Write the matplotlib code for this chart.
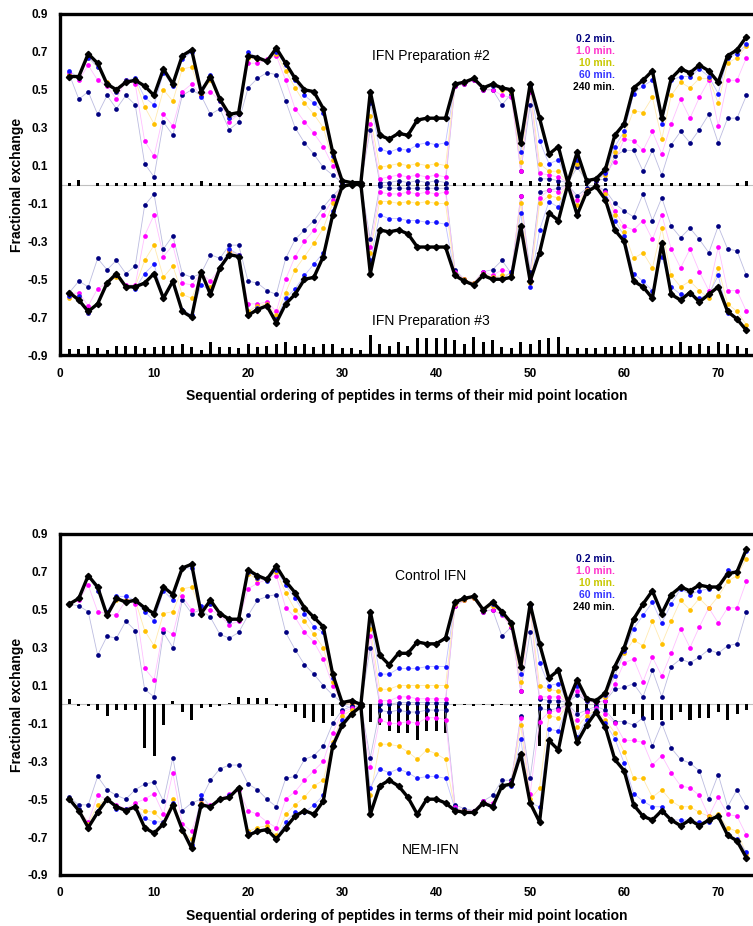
import numpy as np
import matplotlib
matplotlib.use('Agg')
import matplotlib.pyplot as plt

plt.rcParams['font.family'] = ['Liberation Sans', 'DejaVu Sans']
plt.rcParams['axes.unicode_minus'] = False

peptide = np.arange(1, 74)
times = ['0.2 min.', '1.0 min.', '10 min.', '60 min.', '240 min.']

# ---- panel A : IFN preparation #2 (upper) / #3 (lower) ----
prep2_02 = [0.58, 0.45, 0.49, 0.37, 0.47, 0.40, 0.47, 0.42, 0.11, 0.04,
            0.33, 0.26, 0.47, 0.50, 0.47, 0.37, 0.40, 0.29, 0.33, 0.51,
            0.56, 0.59, 0.58, 0.44, 0.30, 0.22, 0.16, 0.09, 0.05, 0.01,
            0.01, 0.01, 0.29, 0.01, 0.01, 0.02, 0.01, 0.02, 0.01, 0.02,
            0.01, 0.52, 0.53, 0.55, 0.50, 0.50, 0.42, 0.48, 0.07, 0.42,
            0.03, 0.03, 0.02, 0.01, 0.09, 0.02, 0.02, 0.03, 0.15, 0.18,
            0.18, 0.07, 0.18, 0.05, 0.21, 0.28, 0.22, 0.29, 0.37, 0.22,
            0.35, 0.35, 0.47]
prep2_1 = [0.59, 0.55, 0.63, 0.55, 0.52, 0.45, 0.55, 0.53, 0.23, 0.15,
           0.37, 0.31, 0.49, 0.53, 0.47, 0.49, 0.44, 0.33, 0.37, 0.64,
           0.64, 0.66, 0.68, 0.55, 0.40, 0.33, 0.27, 0.20, 0.10, 0.01,
           0.01, 0.01, 0.32, 0.03, 0.04, 0.05, 0.04, 0.05, 0.04, 0.05,
           0.04, 0.52, 0.53, 0.55, 0.50, 0.50, 0.47, 0.46, 0.07, 0.49,
           0.06, 0.05, 0.04, 0.01, 0.14, 0.02, 0.02, 0.06, 0.12, 0.24,
           0.23, 0.18, 0.28, 0.16, 0.32, 0.45, 0.35, 0.46, 0.55, 0.31,
           0.55, 0.55, 0.67]
prep2_10 = [0.58, 0.56, 0.67, 0.62, 0.54, 0.49, 0.55, 0.55, 0.41, 0.32,
            0.50, 0.44, 0.61, 0.62, 0.48, 0.55, 0.44, 0.35, 0.37, 0.67,
            0.66, 0.65, 0.69, 0.60, 0.51, 0.43, 0.37, 0.30, 0.13, 0.01,
            0.01, 0.01, 0.36, 0.09, 0.10, 0.11, 0.10, 0.11, 0.10, 0.11,
            0.10, 0.53, 0.54, 0.56, 0.51, 0.52, 0.50, 0.49, 0.12, 0.51,
            0.11, 0.07, 0.07, 0.01, 0.11, 0.02, 0.02, 0.05, 0.17, 0.26,
            0.39, 0.38, 0.46, 0.24, 0.47, 0.54, 0.51, 0.56, 0.56, 0.43,
            0.64, 0.67, 0.73]
prep2_60 = [0.60, 0.56, 0.67, 0.62, 0.53, 0.49, 0.55, 0.56, 0.46, 0.42,
            0.59, 0.52, 0.66, 0.70, 0.46, 0.58, 0.44, 0.35, 0.37, 0.70,
            0.67, 0.65, 0.70, 0.63, 0.55, 0.47, 0.43, 0.38, 0.15, 0.01,
            0.01, 0.01, 0.43, 0.19, 0.17, 0.19, 0.18, 0.21, 0.22, 0.21,
            0.22, 0.53, 0.54, 0.56, 0.51, 0.52, 0.51, 0.50, 0.17, 0.52,
            0.23, 0.11, 0.13, 0.01, 0.13, 0.02, 0.02, 0.06, 0.20, 0.28,
            0.48, 0.52, 0.55, 0.32, 0.55, 0.57, 0.57, 0.61, 0.57, 0.48,
            0.67, 0.69, 0.74]
prep2_240 = [0.57, 0.57, 0.69, 0.64, 0.53, 0.50, 0.54, 0.55, 0.52, 0.47,
             0.61, 0.53, 0.68, 0.71, 0.49, 0.57, 0.45, 0.37, 0.38, 0.68,
             0.67, 0.65, 0.72, 0.64, 0.56, 0.50, 0.49, 0.40, 0.17, 0.02,
             0.01, 0.01, 0.49, 0.26, 0.24, 0.27, 0.26, 0.34, 0.35, 0.35,
             0.35, 0.53, 0.54, 0.56, 0.51, 0.53, 0.51, 0.50, 0.22, 0.53,
             0.35, 0.16, 0.20, 0.01, 0.17, 0.02, 0.03, 0.08, 0.26, 0.32,
             0.51, 0.55, 0.60, 0.35, 0.56, 0.61, 0.59, 0.63, 0.60, 0.54,
             0.68, 0.71, 0.78]

prep3_02 = [-0.57, -0.51, -0.54, -0.39, -0.45, -0.40, -0.47, -0.43, -0.11, -0.05,
            -0.34, -0.27, -0.47, -0.49, -0.47, -0.37, -0.39, -0.32, -0.32, -0.51,
            -0.52, -0.56, -0.58, -0.39, -0.29, -0.24, -0.19, -0.12, -0.06, -0.01,
            0.00, 0.00, -0.29, -0.01, -0.02, -0.02, -0.02, -0.02, -0.02, -0.02,
            -0.02, -0.45, -0.50, -0.52, -0.46, -0.45, -0.40, -0.47, -0.06, -0.46,
            -0.04, -0.03, -0.02, 0.00, -0.06, -0.02, -0.01, -0.03, -0.10, -0.14,
            -0.17, -0.05, -0.19, -0.07, -0.22, -0.28, -0.23, -0.29, -0.36, -0.22,
            -0.34, -0.35, -0.48]
prep3_1 = [-0.58, -0.57, -0.64, -0.55, -0.52, -0.47, -0.53, -0.53, -0.27, -0.16,
           -0.38, -0.32, -0.52, -0.53, -0.47, -0.51, -0.44, -0.35, -0.37, -0.63,
           -0.63, -0.62, -0.67, -0.50, -0.38, -0.30, -0.24, -0.16, -0.08, -0.01,
           0.00, 0.00, -0.33, -0.04, -0.05, -0.05, -0.04, -0.05, -0.04, -0.05,
           -0.04, -0.46, -0.50, -0.52, -0.46, -0.48, -0.45, -0.46, -0.06, -0.50,
           -0.07, -0.03, -0.04, 0.00, -0.08, -0.03, -0.01, -0.04, -0.14, -0.22,
           -0.24, -0.19, -0.29, -0.16, -0.34, -0.44, -0.34, -0.46, -0.56, -0.33,
           -0.56, -0.56, -0.67]
prep3_10 = [-0.60, -0.59, -0.68, -0.63, -0.52, -0.49, -0.54, -0.54, -0.40, -0.32,
            -0.49, -0.43, -0.58, -0.60, -0.48, -0.54, -0.44, -0.35, -0.37, -0.67,
            -0.64, -0.63, -0.69, -0.57, -0.45, -0.38, -0.31, -0.23, -0.10, -0.01,
            0.00, 0.00, -0.36, -0.09, -0.09, -0.10, -0.09, -0.10, -0.09, -0.10,
            -0.10, -0.47, -0.50, -0.52, -0.47, -0.49, -0.48, -0.47, -0.10, -0.52,
            -0.10, -0.06, -0.07, 0.00, -0.11, -0.03, -0.01, -0.05, -0.16, -0.25,
            -0.39, -0.36, -0.44, -0.23, -0.48, -0.54, -0.51, -0.56, -0.60, -0.44,
            -0.63, -0.67, -0.74]
prep3_60 = [-0.59, -0.59, -0.68, -0.63, -0.52, -0.48, -0.54, -0.55, -0.47, -0.42,
            -0.60, -0.51, -0.66, -0.69, -0.53, -0.56, -0.44, -0.34, -0.37, -0.69,
            -0.65, -0.64, -0.71, -0.60, -0.55, -0.48, -0.42, -0.36, -0.14, -0.01,
            0.00, 0.00, -0.40, -0.16, -0.18, -0.18, -0.19, -0.19, -0.20, -0.20,
            -0.21, -0.48, -0.51, -0.53, -0.48, -0.50, -0.50, -0.46, -0.15, -0.54,
            -0.24, -0.09, -0.12, 0.00, -0.15, -0.04, -0.01, -0.07, -0.19, -0.27,
            -0.47, -0.51, -0.56, -0.38, -0.54, -0.58, -0.58, -0.60, -0.58, -0.48,
            -0.68, -0.71, -0.77]
prep3_240 = [-0.57, -0.61, -0.67, -0.63, -0.52, -0.47, -0.54, -0.54, -0.52, -0.47,
             -0.60, -0.51, -0.67, -0.70, -0.46, -0.58, -0.44, -0.37, -0.38, -0.69,
             -0.66, -0.64, -0.73, -0.63, -0.58, -0.50, -0.49, -0.38, -0.16, -0.01,
             0.00, 0.00, -0.47, -0.24, -0.25, -0.24, -0.26, -0.33, -0.33, -0.33,
             -0.33, -0.48, -0.51, -0.53, -0.48, -0.50, -0.50, -0.49, -0.22, -0.51,
             -0.36, -0.15, -0.19, 0.00, -0.16, -0.04, -0.01, -0.08, -0.24, -0.30,
             -0.51, -0.54, -0.60, -0.31, -0.58, -0.61, -0.57, -0.62, -0.58, -0.54,
             -0.67, -0.71, -0.77]

# difference bars (on the zero line) and bars along the -0.9 axis
prep_diff = [0.015, 0.03, 0.0, 0.015, 0.012, 0.015, 0.015, 0.015, 0.018, 0.015,
             0.015, 0.015, 0.015, 0.012, 0.025, 0.015, 0.015, 0.015, 0.0, 0.015,
             0.015, 0.015, 0.015, 0.015, 0.015, 0.018, 0.015, 0.015, 0.015, 0.01,
             0.01, 0.01, 0.015, 0.015, 0.015, 0.015, 0.015, 0.015, 0.015, 0.015,
             0.015, 0.015, 0.015, 0.015, 0.015, 0.015, 0.012, 0.025, 0.015, 0.025,
             0.015, 0.015, 0.015, 0.01, 0.015, 0.015, 0.015, 0.015, 0.015, 0.015,
             0.015, 0.015, 0.015, 0.015, 0.015, 0.015, 0.015, 0.015, 0.015, 0.015,
             0.0, 0.015, 0.025]
prep_base = [0.03, 0.03, 0.05, 0.035, 0.025, 0.05, 0.05, 0.05, 0.035, 0.04,
             0.05, 0.05, 0.06, 0.04, 0.025, 0.07, 0.045, 0.04, 0.035, 0.06,
             0.045, 0.05, 0.06, 0.07, 0.05, 0.06, 0.045, 0.06, 0.06, 0.035,
             0.035, 0.025, 0.105, 0.06, 0.05, 0.07, 0.05, 0.09, 0.09, 0.09,
             0.09, 0.08, 0.06, 0.095, 0.07, 0.08, 0.045, 0.035, 0.07, 0.06,
             0.08, 0.09, 0.095, 0.045, 0.035, 0.035, 0.035, 0.04, 0.04, 0.05,
             0.04, 0.05, 0.04, 0.05, 0.05, 0.07, 0.05, 0.06, 0.05, 0.07,
             0.06, 0.05, 0.035]

# ---- panel B : control IFN (upper) / NEM-IFN (lower) ----
ctrl_02 = [0.53, 0.52, 0.49, 0.26, 0.36, 0.35, 0.44, 0.39, 0.08, 0.04,
           0.38, 0.30, 0.55, 0.48, 0.50, 0.46, 0.37, 0.35, 0.38, 0.47,
           0.55, 0.57, 0.58, 0.38, 0.29, 0.21, 0.16, 0.10, 0.05, 0.01,
           0.00, 0.00, 0.30, 0.00, 0.00, 0.01, 0.01, 0.01, 0.01, 0.01,
           0.01, 0.52, 0.55, 0.56, 0.49, 0.50, 0.36, 0.41, 0.07, 0.38,
           0.03, 0.02, 0.02, 0.01, 0.05, 0.02, 0.01, 0.02, 0.08, 0.09,
           0.11, 0.04, 0.18, 0.04, 0.20, 0.24, 0.22, 0.25, 0.29, 0.27,
           0.31, 0.32, 0.49]
ctrl_1 = [0.53, 0.55, 0.63, 0.49, 0.48, 0.47, 0.55, 0.53, 0.19, 0.13,
          0.40, 0.37, 0.57, 0.50, 0.50, 0.50, 0.47, 0.42, 0.44, 0.61,
          0.64, 0.66, 0.68, 0.51, 0.46, 0.38, 0.33, 0.24, 0.10, 0.01,
          0.00, 0.00, 0.36, 0.02, 0.02, 0.04, 0.04, 0.03, 0.03, 0.03,
          0.03, 0.52, 0.55, 0.56, 0.49, 0.50, 0.47, 0.41, 0.07, 0.50,
          0.04, 0.04, 0.04, 0.01, 0.07, 0.02, 0.01, 0.02, 0.11, 0.22,
          0.24, 0.12, 0.25, 0.15, 0.27, 0.40, 0.30, 0.41, 0.51, 0.43,
          0.51, 0.51, 0.65]
ctrl_10 = [0.53, 0.56, 0.68, 0.60, 0.48, 0.55, 0.55, 0.55, 0.39, 0.31,
           0.48, 0.49, 0.61, 0.62, 0.50, 0.53, 0.48, 0.44, 0.45, 0.69,
           0.66, 0.66, 0.70, 0.59, 0.50, 0.44, 0.37, 0.30, 0.12, 0.01,
           0.00, 0.00, 0.40, 0.08, 0.08, 0.10, 0.10, 0.10, 0.10, 0.10,
           0.10, 0.53, 0.55, 0.56, 0.50, 0.52, 0.48, 0.42, 0.12, 0.51,
           0.10, 0.08, 0.07, 0.01, 0.11, 0.02, 0.02, 0.04, 0.15, 0.27,
           0.34, 0.31, 0.44, 0.32, 0.44, 0.55, 0.50, 0.56, 0.51, 0.57,
           0.65, 0.68, 0.77]
ctrl_60 = [0.53, 0.56, 0.68, 0.60, 0.49, 0.57, 0.57, 0.55, 0.49, 0.44,
           0.60, 0.55, 0.72, 0.72, 0.52, 0.53, 0.48, 0.44, 0.45, 0.70,
           0.67, 0.65, 0.71, 0.63, 0.56, 0.48, 0.41, 0.38, 0.14, 0.00,
           -0.02, 0.00, 0.45, 0.16, 0.16, 0.19, 0.19, 0.19, 0.20, 0.20,
           0.20, 0.54, 0.56, 0.57, 0.50, 0.53, 0.48, 0.43, 0.16, 0.52,
           0.22, 0.10, 0.11, 0.01, 0.10, 0.02, 0.02, 0.05, 0.15, 0.28,
           0.40, 0.47, 0.54, 0.43, 0.53, 0.61, 0.58, 0.60, 0.61, 0.62,
           0.71, 0.70, 0.81]
ctrl_240 = [0.53, 0.56, 0.68, 0.62, 0.47, 0.56, 0.54, 0.55, 0.51, 0.48,
            0.62, 0.58, 0.72, 0.74, 0.48, 0.55, 0.48, 0.45, 0.45, 0.71,
            0.68, 0.66, 0.73, 0.65, 0.59, 0.51, 0.46, 0.41, 0.16, 0.01,
            0.02, 0.00, 0.49, 0.26, 0.21, 0.27, 0.27, 0.33, 0.32, 0.32,
            0.35, 0.54, 0.56, 0.57, 0.50, 0.54, 0.49, 0.43, 0.20, 0.53,
            0.32, 0.14, 0.18, 0.01, 0.13, 0.03, 0.02, 0.06, 0.20, 0.30,
            0.45, 0.53, 0.60, 0.48, 0.58, 0.62, 0.60, 0.63, 0.62, 0.62,
            0.69, 0.70, 0.82]

nem_02 = [-0.49, -0.53, -0.53, -0.38, -0.45, -0.48, -0.50, -0.45, -0.42, -0.41,
          -0.51, -0.28, -0.56, -0.52, -0.50, -0.40, -0.34, -0.32, -0.32, -0.42,
          -0.45, -0.50, -0.54, -0.39, -0.38, -0.29, -0.27, -0.22, -0.10, -0.03,
          -0.01, -0.01, -0.28, -0.03, -0.04, -0.03, -0.04, -0.04, -0.03, -0.03,
          -0.03, -0.53, -0.55, -0.56, -0.51, -0.48, -0.40, -0.40, -0.06, -0.39,
          -0.02, -0.03, -0.02, 0.00, -0.05, -0.03, -0.01, -0.03, -0.09, -0.09,
          -0.11, -0.07, -0.22, -0.10, -0.23, -0.29, -0.31, -0.35, -0.50, -0.37,
          -0.54, -0.45, -0.54]
nem_1 = [-0.50, -0.56, -0.62, -0.48, -0.50, -0.53, -0.55, -0.52, -0.50, -0.47,
         -0.58, -0.36, -0.63, -0.67, -0.52, -0.53, -0.50, -0.47, -0.45, -0.56,
         -0.58, -0.62, -0.65, -0.50, -0.46, -0.40, -0.35, -0.30, -0.15, -0.04,
         -0.02, -0.01, -0.33, -0.08, -0.10, -0.10, -0.09, -0.10, -0.07, -0.07,
         -0.08, -0.54, -0.56, -0.56, -0.51, -0.52, -0.43, -0.41, -0.07, -0.47,
         -0.09, -0.04, -0.03, 0.00, -0.08, -0.04, -0.02, -0.05, -0.10, -0.19,
         -0.19, -0.20, -0.32, -0.27, -0.36, -0.43, -0.44, -0.48, -0.59, -0.49,
         -0.58, -0.59, -0.69]
nem_10 = [-0.50, -0.55, -0.63, -0.53, -0.50, -0.54, -0.55, -0.54, -0.56, -0.57,
          -0.62, -0.50, -0.67, -0.71, -0.52, -0.54, -0.50, -0.49, -0.44, -0.67,
          -0.65, -0.64, -0.69, -0.58, -0.53, -0.49, -0.43, -0.40, -0.20, -0.06,
          -0.03, -0.01, -0.48, -0.21, -0.21, -0.22, -0.25, -0.29, -0.24, -0.26,
          -0.29, -0.55, -0.56, -0.57, -0.52, -0.53, -0.43, -0.42, -0.11, -0.50,
          -0.44, -0.06, -0.07, 0.00, -0.12, -0.06, -0.03, -0.08, -0.15, -0.25,
          -0.39, -0.39, -0.49, -0.45, -0.51, -0.54, -0.54, -0.57, -0.59, -0.58,
          -0.65, -0.67, -0.79]
nem_60 = [-0.50, -0.55, -0.64, -0.56, -0.50, -0.55, -0.55, -0.54, -0.60, -0.62,
          -0.62, -0.52, -0.66, -0.74, -0.48, -0.54, -0.50, -0.48, -0.44, -0.68,
          -0.67, -0.66, -0.71, -0.62, -0.57, -0.57, -0.53, -0.48, -0.21, -0.08,
          -0.05, -0.01, -0.44, -0.34, -0.36, -0.34, -0.36, -0.39, -0.38, -0.38,
          -0.39, -0.55, -0.57, -0.57, -0.52, -0.53, -0.43, -0.43, -0.18, -0.52,
          -0.54, -0.13, -0.14, 0.00, -0.17, -0.08, -0.03, -0.10, -0.18, -0.31,
          -0.47, -0.51, -0.54, -0.54, -0.61, -0.61, -0.61, -0.62, -0.62, -0.59,
          -0.69, -0.71, -0.78]
nem_240 = [-0.50, -0.56, -0.65, -0.57, -0.50, -0.54, -0.56, -0.54, -0.65, -0.68,
           -0.63, -0.53, -0.66, -0.76, -0.53, -0.54, -0.50, -0.49, -0.44, -0.69,
           -0.67, -0.66, -0.71, -0.65, -0.59, -0.56, -0.58, -0.51, -0.22, -0.11,
           -0.05, -0.01, -0.58, -0.43, -0.40, -0.43, -0.49, -0.58, -0.50, -0.50,
           -0.52, -0.56, -0.57, -0.57, -0.52, -0.54, -0.43, -0.42, -0.26, -0.52,
           -0.62, -0.19, -0.24, 0.00, -0.20, -0.11, -0.04, -0.12, -0.29, -0.35,
           -0.53, -0.59, -0.61, -0.56, -0.61, -0.64, -0.61, -0.64, -0.61, -0.59,
           -0.69, -0.72, -0.81]

ctrl_diff = [0.03, -0.01, -0.01, -0.03, -0.06, -0.03, -0.03, -0.03, -0.23, -0.27,
             -0.11, 0.02, -0.04, -0.08, -0.02, -0.015, -0.01, 0.01, 0.04, 0.035,
             0.035, 0.035, -0.01, -0.02, -0.04, -0.07, -0.09, -0.10, -0.06, 0.0,
             0.0, 0.0, -0.09, -0.11, -0.14, -0.15, -0.15, -0.19, -0.14, -0.14,
             -0.15, -0.01, -0.005, -0.01, -0.005, -0.01, -0.005, -0.01, -0.01, -0.01,
             -0.22, -0.05, -0.02, 0.0, -0.04, -0.03, -0.02, -0.03, -0.06, -0.03,
             -0.05, -0.07, -0.08, -0.08, -0.08, -0.04, -0.08, -0.07, -0.07, -0.04,
             -0.08, -0.05, -0.03]

dot_colors = ['#000080', '#ff00ff', '#ffc000', '#1010ff']
line_colors = ['#bcbce0', '#ffc0ff', '#ffeab0', '#c0c0ff']
legend_colors = ['#000080', '#ff33cc', '#c8c800', '#3333ff', 'black']


def draw_panel(ax, upper, lower, diff, top_label, bottom_label, base=None):
    ax.axhline(0, color='#c0c0c0', lw=0.8, zorder=1)
    if base is not None:
        ax.bar(peptide, base, width=0.32, bottom=-0.9, color='black', zorder=2)
    ax.bar(peptide, diff, width=0.32, bottom=-0.006 if base is not None else 0,
           color='black', zorder=2)
    for series in (upper, lower):
        for k in range(4):
            ax.plot(peptide, series[k], color=line_colors[k], lw=0.6, zorder=3)
        for k in range(4):
            ax.plot(peptide, series[k], 'o', color=dot_colors[k], ms=3.4,
                    mec='none', zorder=4)
        ax.plot(peptide, series[4], '-', color='black', lw=2.4, zorder=5,
                solid_joinstyle='round')
        ax.plot(peptide, series[4], 'D', color='black', ms=3.2, zorder=6)

    ax.text(39.4, 0.68, top_label, ha='center', va='center', fontsize=10)
    ax.text(39.4, -0.72, bottom_label, ha='center', va='center', fontsize=10)
    for k, t in enumerate(times):
        ax.text(59.0, 0.77 - 0.064 * k, t, ha='right', va='center',
                fontsize=7.5, fontweight='bold', color=legend_colors[k])

    ax.set_xlim(0, 73.7)
    ax.set_ylim(-0.9, 0.9)
    ax.set_yticks(np.arange(-0.9, 0.91, 0.2))
    ax.set_yticklabels(['%.1f' % v for v in np.arange(-0.9, 0.91, 0.2)])
    ax.set_xticks(range(0, 80, 10))
    ax.tick_params(length=0, labelsize=8.5, pad=9)
    for lab in ax.get_xticklabels() + ax.get_yticklabels():
        lab.set_fontweight('bold')
    for side in ('left', 'top', 'bottom'):
        ax.spines[side].set_linewidth(2.4)
    ax.spines['right'].set_visible(False)
    ax.set_xlabel('Sequential ordering of peptides in terms of their mid point location',
                  fontsize=10, fontweight='bold', labelpad=7)
    ax.set_ylabel('Fractional exchange', fontsize=10, fontweight='bold', labelpad=2)


fig = plt.figure(figsize=(7.53, 9.26), dpi=100)
ax1 = fig.add_axes([0.0797, 0.6166, 0.9203, 0.3683])
ax2 = fig.add_axes([0.0797, 0.0551, 0.9203, 0.3683])

draw_panel(ax1, [prep2_02, prep2_1, prep2_10, prep2_60, prep2_240],
           [prep3_02, prep3_1, prep3_10, prep3_60, prep3_240],
           prep_diff, 'IFN Preparation #2', 'IFN Preparation #3', base=prep_base)
draw_panel(ax2, [ctrl_02, ctrl_1, ctrl_10, ctrl_60, ctrl_240],
           [nem_02, nem_1, nem_10, nem_60, nem_240],
           ctrl_diff, 'Control IFN', 'NEM-IFN')
ax2.texts[1].set_position((39.4, -0.77))

plt.savefig('out.png', dpi=100)
